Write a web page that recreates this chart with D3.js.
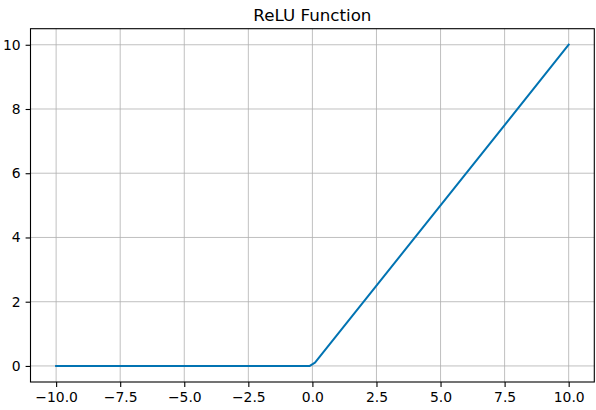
<!DOCTYPE html>
<html><head><meta charset="utf-8">
<script src="https://cdn.jsdelivr.net/npm/d3@7"></script>
<style>body{margin:0;background:#fff}svg{display:block}text{font-family:"DejaVu Sans",sans-serif}</style>
</head><body>
<script>
const xValues = [-10, -0.101, 0.101, 10];
const yValues = [0, 0, 0.101, 10];
const xTicks = [-10, -7.5, -5, -2.5, 0, 2.5, 5, 7.5, 10];
const yTicks = [0, 2, 4, 6, 8, 10];
const title = "ReLU Function";

const W = 596, H = 410;
const m = {left: 30.5, top: 28.7, right: 596 - 594.3, bottom: 410 - 382};
const svg = d3.select("body").append("svg").attr("width", W).attr("height", H);
const x = d3.scaleLinear().domain([-11, 11]).range([m.left, W - m.right]);
const y = d3.scaleLinear().domain([-0.5, 10.5]).range([H - m.bottom, m.top]);

const g = svg.append("g");
// grid
g.selectAll(".gx").data(xTicks).join("line")
  .attr("x1", d => x(d)).attr("x2", d => x(d)).attr("y1", m.top).attr("y2", H - m.bottom)
  .attr("stroke", "#b0b0b0").attr("stroke-width", 0.8);
g.selectAll(".gy").data(yTicks).join("line")
  .attr("y1", d => y(d)).attr("y2", d => y(d)).attr("x1", m.left).attr("x2", W - m.right)
  .attr("stroke", "#b0b0b0").attr("stroke-width", 0.8);

// line
const pts = xValues.map((v, i) => [v, yValues[i]]);
g.append("path").datum(pts)
  .attr("d", d3.line().x(d => x(d[0])).y(d => y(d[1])))
  .attr("fill", "none").attr("stroke", "#0173b2").attr("stroke-width", 2)
  .attr("stroke-linejoin", "round").attr("stroke-linecap", "square");

// axes
const fmtX = d => (d < 0 ? "\u2212" : "") + Math.abs(d).toFixed(1);
const fmtY = d => (d < 0 ? "\u2212" : "") + Math.abs(d);
const xa = svg.append("g").attr("transform", `translate(0,${H - m.bottom})`)
  .call(d3.axisBottom(x).tickValues(xTicks).tickFormat(fmtX).tickSize(4.9).tickPadding(4.9));
const ya = svg.append("g").attr("transform", `translate(${m.left},0)`)
  .call(d3.axisLeft(y).tickValues(yTicks).tickFormat(fmtY).tickSize(4.9).tickPadding(4.9));
[xa, ya].forEach(a => {
  a.select(".domain").remove();
  a.selectAll("line").attr("stroke", "#000").attr("stroke-width", 1.1);
  a.selectAll("text").attr("font-size", 13.9).attr("fill", "#000").style("font-family", '"DejaVu Sans",sans-serif');
});

svg.append("rect").attr("x", m.left).attr("y", m.top)
  .attr("width", W - m.right - m.left).attr("height", H - m.bottom - m.top)
  .attr("fill", "none").attr("stroke", "#000").attr("stroke-width", 1.1);

svg.append("text").attr("x", (m.left + W - m.right) / 2).attr("y", 20.5)
  .attr("text-anchor", "middle").attr("font-size", 16.7).attr("fill", "#000").text(title);
</script>
</body></html>
